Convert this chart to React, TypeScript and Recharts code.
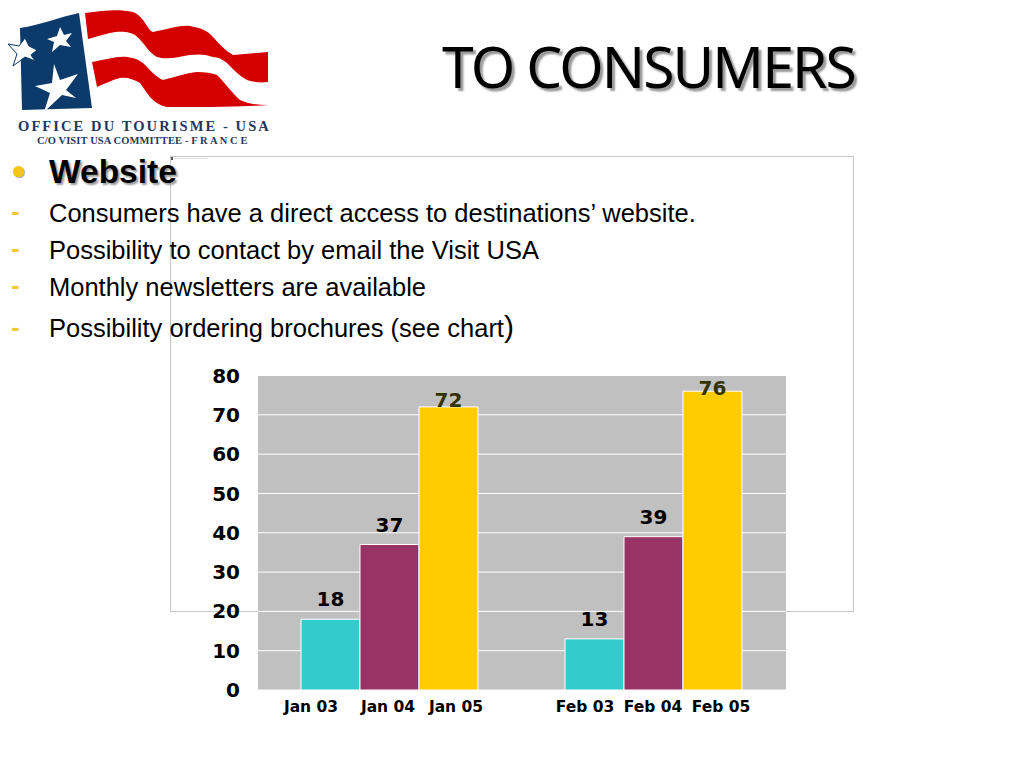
import React from 'react';
import { BarChart, Bar, XAxis, YAxis, CartesianGrid, LabelList } from 'recharts';

const groups = ['Jan', 'Feb'];
const series03 = [18, 13];
const series04 = [37, 39];
const series05 = [72, 76];
const yTicks = [0, 10, 20, 30, 40, 50, 60, 70, 80];
const tickLabels = [
  ['Jan 03', 'Jan 04', 'Jan 05'],
  ['Feb 03', 'Feb 04', 'Feb 05'],
];
const bullets = [
  'Consumers have a direct access to destinations\u2019 website.',
  'Possibility to contact by email the Visit USA',
  'Monthly newsletters are available',
];

const chartData = groups.map((g, i) => ({
  group: g,
  y03: series03[i],
  y04: series04[i],
  y05: series05[i],
}));

// the x labels sit unevenly under the bars in the original slide
const tickOffsets = [
  [-79, -2, 66],
  [-69, -1, 67],
];
// same for the 2005 value labels, they were dragged by hand
const lift05 = [0, -4];

const GroupTick = ({ x, y, index }: any) => (
  <g>
    {tickLabels[index].map((label, i) => (
      <text
        key={label}
        x={x + tickOffsets[index][i]}
        y={y + 14}
        textAnchor="middle"
        fontFamily="DejaVu Sans"
        fontWeight="bold"
        fontSize={15.5}
        fill="#000"
      >
        {label}
      </text>
    ))}
  </g>
);

const Label05 = ({ x, y, width, value, index }: any) => (
  <text
    x={x + width / 2}
    y={y - lift05[index]}
    textAnchor="middle"
    fontFamily="DejaVu Sans"
    fontWeight="bold"
    fontSize={20}
    fill="#333300"
  >
    {value}
  </text>
);

const Logo = () => (
  <svg width={280} height={155} style={{ position: 'absolute', left: 0, top: 0 }}>
    <path d="M20 28 C40 25 60 17 79 13 L92 108 L22 110 Z" fill="#0b3a6b" />
    <path d="M85 13 C105 10 120 9 133 12 C145 17 147 30 153 32 C165 30 178 25 190 26 C203 28 210 33 213 37 C220 45 226 51 233 55 L268 52 L268 82 C260 83 253 82 247 80 C238 75 232 68 227 63 C222 59 218 57 213 57 C205 54 198 54 190 55 C178 57 167 60 157 57 C150 53 147 48 143 43 C138 37 135 34 130 33 C122 31 116 32 110 33 C102 35 95 37 88 39 Z" fill="#d40000" />
    <path d="M92 62 C105 60 116 56 127 57 C135 58 139 60 143 63 C150 70 156 77 163 80 C175 77 186 73 197 72 C205 72 212 73 217 75 C225 83 232 93 240 100 C248 104 258 105 268 105 C235 107 200 107 167 107 C158 105 154 101 150 97 C146 92 143 87 140 83 C133 79 127 77 120 78 C112 80 104 84 97 87 Z" fill="#d40000" />
    <polygon points="25,38 29,46 37,50 31,55 35,61 25,57 13,66 17,54 8,44 19,46" fill="#fff" stroke="#0b3a6b" strokeWidth={1} />
    <polygon points="60,27 64,35 72,33 66,41 71,47 60,45 52,52 54,42 47,39 57,36" fill="#fff" />
    <polygon points="54,64 60,80 78,74 66,90 76,98 62,95 44,112 50,93 35,86 52,83" fill="#fff" />
    <text x={18} y={131} fontFamily="Liberation Serif" fontWeight="bold" fontSize={14.5} letterSpacing={2.1} fill="#26365f">
      OFFICE DU TOURISME - USA
    </text>
    <text x={37} y={144} fontFamily="Liberation Serif" fontWeight="bold" fontSize={10.5} letterSpacing={0.1} fill="#26365f">
      C/O VISIT USA COMMITTEE  -  F R A N C E
    </text>
  </svg>
);

const App = () => {
  const textStyle: React.CSSProperties = {
    position: 'absolute',
    left: 49,
    fontFamily: 'Liberation Sans',
    fontSize: 25.5,
    color: '#000',
    whiteSpace: 'nowrap',
    lineHeight: '28px',
  };
  const dashStyle: React.CSSProperties = {
    position: 'absolute',
    left: 11,
    fontFamily: 'Liberation Sans',
    fontWeight: 'bold',
    fontSize: 26,
    color: '#efc93a',
    lineHeight: '24px',
  };
  const rowTops = [199, 236, 273];

  return (
    <div style={{ position: 'absolute', left: 0, top: 0, width: 1024, height: 768, background: '#fff', overflow: 'hidden' }}>
      <Logo />
      <div
        style={{
          position: 'absolute',
          left: 442,
          top: 26,
          fontFamily: 'Noto Sans',
          fontSize: 57,
          lineHeight: '80px',
          letterSpacing: -1.9,
          color: '#000',
          whiteSpace: 'nowrap',
          textShadow: '3px 3px 2px #999',
        }}
      >
        TO CONSUMERS
      </div>

      <div style={{ position: 'absolute', left: 170, top: 156, width: 682, height: 454, border: '1px solid #c8c8c8' }} />
      <div style={{ position: 'absolute', left: 171, top: 157, width: 2, height: 3, background: '#555' }} />
      <div style={{ position: 'absolute', left: 175, top: 158, width: 33, height: 1, background: '#e2e2e2' }} />

      <div style={{ position: 'absolute', left: 13, top: 166, width: 11, height: 11, borderRadius: 6, background: '#f5c518', boxShadow: '1px 1px 1px #aaa' }} />
      <div
        style={{
          position: 'absolute',
          left: 49,
          top: 154,
          fontFamily: 'Liberation Sans',
          fontWeight: 'bold',
          fontSize: 33.5,
          lineHeight: '36px',
          color: '#000',
          textShadow: '2px 2px 2px #999',
        }}
      >
        Website
      </div>

      {bullets.map((b, i) => (
        <React.Fragment key={b}>
          <div style={{ ...dashStyle, top: rowTops[i] }}>-</div>
          <div style={{ ...textStyle, top: rowTops[i] }}>{b}</div>
        </React.Fragment>
      ))}
      <div style={{ ...dashStyle, top: 315 }}>-</div>
      <div style={{ ...textStyle, top: 313 }}>
        Possibility ordering brochures (see chart<span style={{ fontSize: 30 }}>)</span>
      </div>

      <div style={{ position: 'absolute', left: 200, top: 360 }}>
        <BarChart
          width={600}
          height={370}
          data={chartData}
          margin={{ top: 15.5, right: 14, bottom: 10, left: 0 }}
          barGap={0}
          barCategoryGap={43}
        >
          <CartesianGrid vertical={false} fill="#c0c0c0" stroke="#ffffff" strokeWidth={1} syncWithTicks />
          <XAxis dataKey="group" axisLine={false} tickLine={false} interval={0} tick={<GroupTick />} />
          <YAxis
            width={58}
            domain={[0, 80]}
            ticks={yTicks}
            interval={0}
            axisLine={false}
            tickLine={false}
            tickSize={0}
            tickMargin={18}
            tick={{ fontFamily: 'DejaVu Sans', fontWeight: 'bold', fontSize: 20, fill: '#000' }}
          />
          <Bar dataKey="y03" fill="#33cccc" stroke="#ffffff" strokeWidth={1} isAnimationActive={false}>
            <LabelList dataKey="y03" position="top" offset={13} fontFamily="DejaVu Sans" fontWeight="bold" fontSize={20} fill="#000" />
          </Bar>
          <Bar dataKey="y04" fill="#993366" stroke="#ffffff" strokeWidth={1} isAnimationActive={false}>
            <LabelList dataKey="y04" position="top" offset={13} fontFamily="DejaVu Sans" fontWeight="bold" fontSize={20} fill="#000" />
          </Bar>
          <Bar dataKey="y05" fill="#ffcc00" stroke="#ffffff" strokeWidth={1} isAnimationActive={false}>
            <LabelList dataKey="y05" content={<Label05 />} />
          </Bar>
        </BarChart>
      </div>
    </div>
  );
};

export default App;
